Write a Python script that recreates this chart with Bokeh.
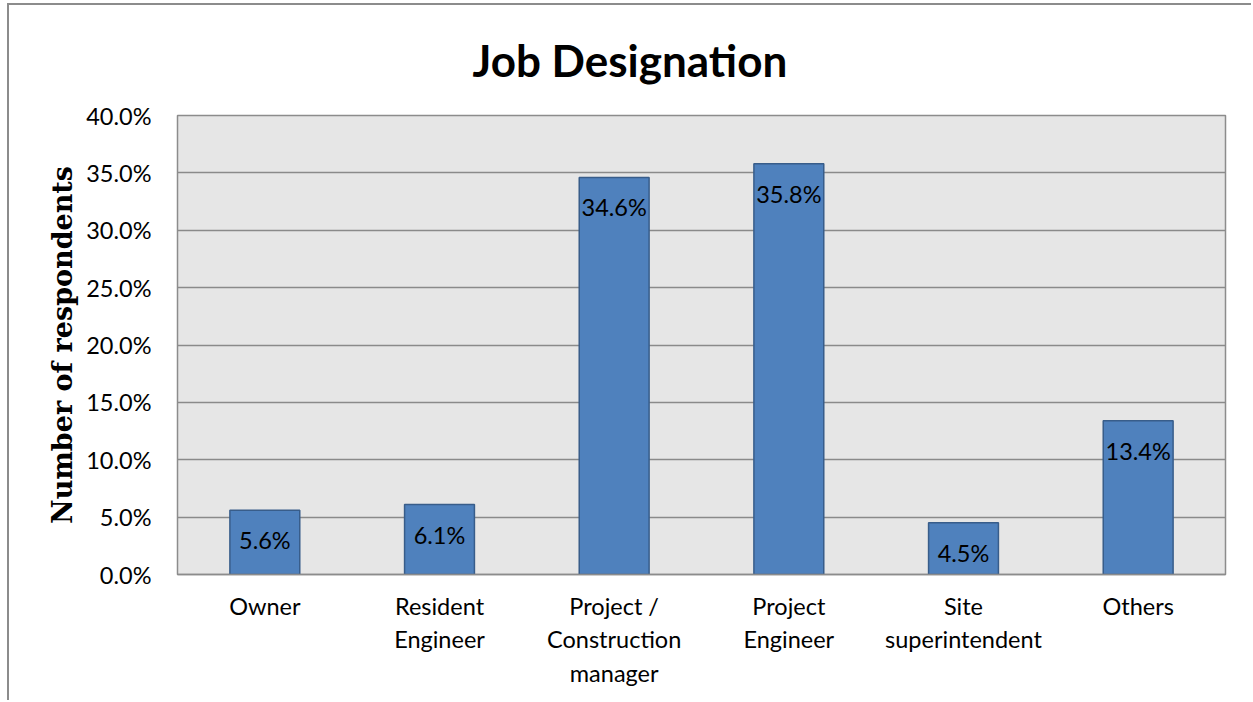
from bokeh.plotting import figure
from bokeh.models import ColumnDataSource, FixedTicker, PrintfTickFormatter, Range1d
from bokeh.core.properties import value
from bokeh.embed import file_html
from bokeh.resources import INLINE

categories = ["Owner", "Resident\nEngineer", "Project /\nConstruction\nmanager",
              "Project\nEngineer", "Site\nsuperintendent", "Others"]
values = [5.6, 6.1, 34.6, 35.8, 4.5, 13.4]
labels = ["5.6%", "6.1%", "34.6%", "35.8%", "4.5%", "13.4%"]
y_ticks = [0, 5, 10, 15, 20, 25, 30, 35, 40]

FONT = "Lato"
src = ColumnDataSource(dict(cat=categories, val=values, lab=labels))

p = figure(x_range=categories, y_range=Range1d(0, 40), width=1244, height=697,
           output_backend="svg", toolbar_location=None,
           min_border_left=168, min_border_right=28, min_border_top=109, min_border_bottom=128,
           title="Job Designation")
p.styles = {"margin-left": "7px", "margin-top": "3px",
            "border-left": "2px solid #8c8c8c", "border-top": "2px solid #8c8c8c"}

p.title.align = "left"
p.title.vertical_align = "top"
p.title.offset = 295
p.title.standoff = 56
p.title.text_font = FONT
p.title.text_font_style = "bold"
p.title.text_font_size = "44px"
p.title.text_color = "black"

p.background_fill_color = "#e6e6e6"
p.border_fill_color = "white"
p.outline_line_color = "#8c8c8c"
p.outline_line_width = 1.5

p.vbar(x="cat", top="val", width=0.4, source=src, fill_color="#4f81bd",
       line_color="#385d8a", line_width=1.5)
p.text(x="cat", y="val", text="lab", source=src, y_offset=30,
       text_align="center", text_baseline="middle", text_font=value(FONT),
       text_font_size="23.5px", text_color="black")

p.xgrid.visible = False
p.ygrid.grid_line_color = "#8a8a8a"
p.ygrid.grid_line_width = 1.5

p.yaxis.ticker = FixedTicker(ticks=y_ticks)
p.yaxis.formatter = PrintfTickFormatter(format="%.1f%%")
for ax in (p.xaxis, p.yaxis):
    ax.axis_line_color = None
    ax.major_tick_line_color = None
    ax.minor_tick_line_color = None
    ax.major_tick_out = 0
    ax.major_tick_in = 0
    ax.major_label_text_font = FONT
    ax.major_label_text_font_size = "23.5px"
    ax.major_label_text_color = "black"
p.xaxis.axis_line_color = "#8c8c8c"
p.xaxis.axis_line_width = 1.5
p.yaxis.major_label_standoff = 26
p.xaxis.major_label_standoff = 17
p.xaxis.major_label_text_line_height = 1.2

p.yaxis.axis_label = "Number of respondents"
p.yaxis.axis_label_text_font = "DejaVu Serif"
p.yaxis.axis_label_text_font_style = "bold"
p.yaxis.axis_label_text_font_size = "27px"
p.yaxis.axis_label_text_color = "black"
p.yaxis.axis_label_standoff = 5

open("out.html", "w").write(file_html(p, INLINE))
